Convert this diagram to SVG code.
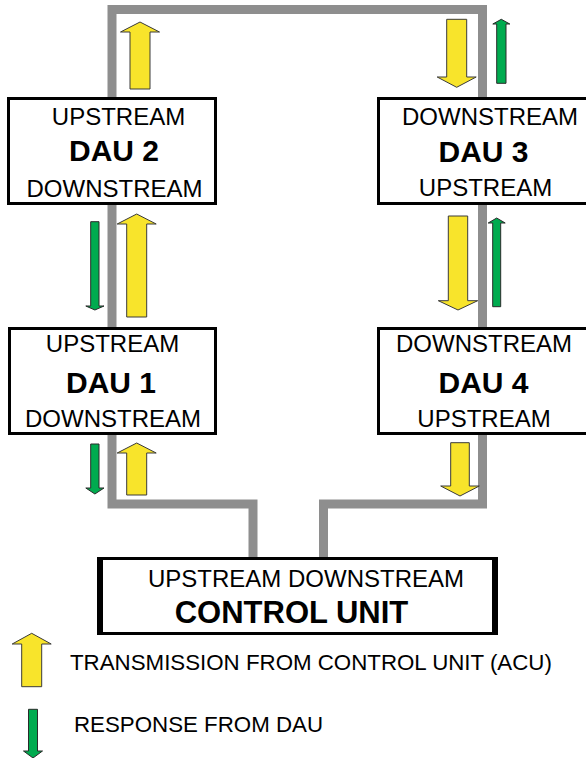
<svg xmlns="http://www.w3.org/2000/svg" width="586" height="758" viewBox="0 0 586 758">
<style>
.bus{fill:none;stroke:#8e8e8e;stroke-width:9;stroke-linejoin:miter;stroke-linecap:butt}
.box{fill:#fff;stroke:#000;stroke-width:3}
.t{font-family:"Liberation Sans",Arial,sans-serif;font-size:24px;fill:#000;text-anchor:middle}
.b{font-family:"Liberation Sans",Arial,sans-serif;font-size:30px;font-weight:bold;fill:#000;text-anchor:middle}
.lg{font-family:"Liberation Sans",Arial,sans-serif;font-size:22.3px;fill:#000}
.ya{fill:#f8e42b;stroke:#3a3a3a;stroke-width:1;stroke-linejoin:miter}
.ga{fill:#00ab4f;stroke:#2a2a2a;stroke-width:1;stroke-linejoin:miter}
</style>
<rect width="586" height="758" fill="#fff"/>
<g id="connectors">
<path class="bus" d="M112,97 V9.5 H482.5 V97"/>
<path class="bus" d="M112,205 V327"/>
<path class="bus" d="M482.5,205 V327"/>
<path class="bus" d="M112,435 V504 H253 V557"/>
<path class="bus" d="M323.5,557 V504 H482.5 V435"/>
</g>
<g id="arrows">
<polygon class="ya" points="140,22 159.5,32 150,32 150,89 130,89 130,32 120.5,32"/>
<polygon class="ya" points="136.7,214 156.2,224 146.7,224 146.7,317 126.7,317 126.7,224 117.2,224"/>
<polygon class="ya" points="136.7,443 156.2,453 146.7,453 146.7,495 126.7,495 126.7,453 117.2,453"/>
<polygon class="ya" points="456.7,87.3 476.2,77 466.7,77 466.7,19.3 446.7,19.3 446.7,77 437.2,77"/>
<polygon class="ya" points="458,310 477.7,300.7 467.7,300.7 467.7,216 448.3,216 448.3,300.7 438.3,300.7"/>
<polygon class="ya" points="460,496 479.3,486 469.3,486 469.3,442.7 450.7,442.7 450.7,486 440.7,486"/>
<polygon class="ga" points="501.3,19.3 509.8,24 506,24 506,83.3 496.7,83.3 496.7,24 492.8,24"/>
<polygon class="ga" points="496.7,218 505.2,223 500.7,223 500.7,306.7 492.7,306.7 492.7,223 488.2,223"/>
<polygon class="ga" points="94.9,310 104,306 99,306 99,221.7 90.7,221.7 90.7,306 85.8,306"/>
<polygon class="ga" points="94.9,494 104,488 99,488 99,444 90.7,444 90.7,488 85.8,488"/>
</g>
<g id="dau2">
<rect class="box" x="8.5" y="98.5" width="207" height="105"/>
<text class="t" x="118.5" y="125">UPSTREAM</text>
<text class="b" x="114" y="161">DAU 2</text>
<text class="t" x="114.5" y="196.5">DOWNSTREAM</text>
</g>
<g id="dau3">
<rect class="box" x="378.5" y="98.5" width="220" height="105"/>
<text class="t" x="490" y="125">DOWNSTREAM</text>
<text class="b" x="483.5" y="161.5">DAU 3</text>
<text class="t" x="485.5" y="196">UPSTREAM</text>
</g>
<g id="dau1">
<rect class="box" x="9.5" y="328.5" width="206" height="105"/>
<text class="t" x="112.5" y="351.5">UPSTREAM</text>
<text class="b" x="111" y="393">DAU 1</text>
<text class="t" x="113" y="426.5">DOWNSTREAM</text>
</g>
<g id="dau4">
<rect class="box" x="378.5" y="328.5" width="220" height="105"/>
<text class="t" x="484" y="351.5">DOWNSTREAM</text>
<text class="b" x="483.5" y="393">DAU 4</text>
<text class="t" x="484" y="426.5">UPSTREAM</text>
</g>
<g id="control-unit">
<rect x="97" y="557" width="401" height="78" fill="#000"/>
<rect x="103" y="560" width="389" height="72" fill="#fff"/>
<text class="t" x="306" y="586.5">UPSTREAM DOWNSTREAM</text>
<text class="b" x="291.5" y="623" style="font-size:31px">CONTROL UNIT</text>
</g>
<g id="legend">
<polygon class="ya" points="31.7,633.3 51.2,644 41.7,644 41.7,686.7 21.7,686.7 21.7,644 12.2,644"/>
<text class="lg" x="70" y="670">TRANSMISSION FROM CONTROL UNIT (ACU)</text>
<polygon class="ga" points="33,758 42.5,751 37.5,751 37.5,709.3 28.5,709.3 28.5,751 23.5,751"/>
<text class="lg" x="74" y="731.5">RESPONSE FROM DAU</text>
</g>
</svg>
